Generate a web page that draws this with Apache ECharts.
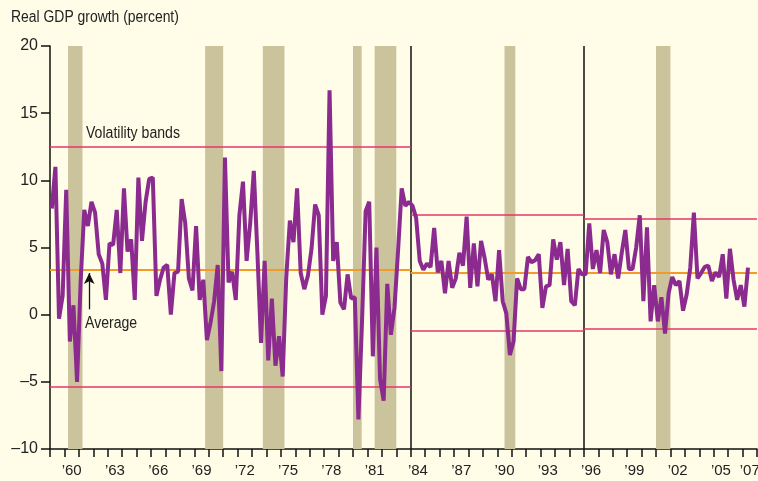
<!DOCTYPE html>
<html>
<head>
<meta charset="UTF-8">
<title>Real GDP growth</title>
<script src="https://cdn.jsdelivr.net/npm/echarts@6/dist/echarts.min.js"></script>
<style type="text/css">
body{margin:0;padding:0;background:#FFFDE8;}
#main{width:758px;height:481px;}
</style>
</head>
<body>
<div id="main"></div>
<script type="text/javascript">
// quarterly real GDP growth, annualized percent
var growth1959to1983 = [
  7.9, 11.0, -0.3, 1.4,   9.3, -2.0, 0.7, -5.0,   2.5, 7.8, 6.6, 8.4,
  7.6, 4.5, 3.8, 1.1,     5.3, 5.2, 7.8, 3.1,     9.4, 4.7, 5.6, 1.1,
  10.2, 5.5, 8.4, 10.1,   10.2, 1.4, 2.6, 3.5,    3.7, 0.0, 3.1, 3.2,
  8.6, 6.8, 2.7, 1.8,     6.6, 1.1, 2.6, -1.9,    -0.6, 1.0, 3.7, -4.2,
  11.7, 2.4, 3.2, 1.1,    7.4, 9.9, 4.0, 6.8,     10.7, 4.6, -2.1, 4.0,
  -3.4, 1.2, -3.8, -1.6,  -4.6, 2.8, 7.0, 5.4,    9.4, 3.1, 1.9, 2.9,
  4.9, 8.2, 7.4, 0.0,     1.4, 16.7, 4.0, 5.4,    0.9, 0.4, 3.0, 1.2,
  1.3, -7.8, -0.5, 7.7,   8.4, -3.1, 5.0, -4.8,   -6.4, 2.3, -1.5, 0.5,
  4.8, 9.4, 8.1, 8.4
];
var growth1984to1995 = [
  8.1, 7.2, 4.0, 3.35,    3.8, 3.55, 6.45, 3.15,  4.0, 1.6, 4.0, 2.0,
  2.7, 4.6, 3.65, 7.3,    2.0, 5.3, 2.1, 5.5,     4.2, 2.6, 3.0, 1.0,
  4.8, 1.0, 0.1, -3.0,    -2.0, 2.7, 1.9, 1.9,    4.3, 3.9, 4.05, 4.5,
  0.5, 2.1, 2.2, 5.6,     4.1, 5.4, 2.2, 4.9,     1.0, 0.7, 3.4, 3.0
];
var growth1996to2007 = [
  3.0, 6.8, 3.4, 4.8,     3.1, 6.3, 5.4, 3.0,     4.5, 2.7, 4.6, 6.3,
  3.4, 3.4, 5.0, 7.4,     1.0, 6.5, -0.5, 2.2,    -0.5, 1.3, -1.4, 1.6,
  2.8, 2.2, 2.5, 0.3,     1.5, 3.5, 7.6, 2.7,     3.1, 3.55, 3.65, 2.5,
  3.15, 2.8, 4.5, 1.2,    4.9, 2.6, 1.1, 2.2,     0.6, 3.5
];
var firstYear = 1959;

// periods with their average and volatility bands
var periodStart = [1959, 1984, 1996];
var periodEnd = [1984, 1996, 2008];
var periodAverage = [3.35, 3.15, 3.15];
var bandUpper = [12.53, 7.45, 7.15];
var bandLower = [-5.34, -1.17, -1.04];

// recessions (shaded)
var recessionStart = [1960.25, 1969.75, 1973.75, 1980.0, 1981.5, 1990.5, 2001.0];
var recessionEnd = [1961.25, 1971.0, 1975.25, 1980.6, 1983.0, 1991.25, 2002.0];

var years = [];
for (var y = 1959; y <= 2007; y++) years.push(String(y));
var labelYears = ['1960','1963','1966','1969','1972','1975','1978','1981','1984',
  '1987','1990','1993','1996','1999','2002','2005','2007'];

var font = "'Liberation Sans Narrow', 'Liberation Sans', Arial, sans-serif";
var allGrowth = growth1959to1983.concat(growth1984to1995, growth1996to2007);
var gdpData = allGrowth.map(function (v, i) {
  return [firstYear + (i + 0.5) / 4, v];
});

var bandLines = [];
var avgLines = [];
for (var p = 0; p < periodStart.length; p++) {
  bandLines.push([{coord: [periodStart[p], bandUpper[p]]}, {coord: [periodEnd[p], bandUpper[p]]}]);
  bandLines.push([{coord: [periodStart[p], bandLower[p]]}, {coord: [periodEnd[p], bandLower[p]]}]);
  avgLines.push([{coord: [periodStart[p], periodAverage[p]]}, {coord: [periodEnd[p], periodAverage[p]]}]);
}
var recessionAreas = recessionStart.map(function (s, i) {
  return [{xAxis: s}, {xAxis: recessionEnd[i]}];
});

var myChart = echarts.init(document.getElementById('main'));
myChart.setOption({
  backgroundColor: '#FFFDE8',
  animation: false,
  grid: {left: 50, right: 1, top: 46, bottom: 32, containLabel: false, outerBoundsMode: 'none'},
  xAxis: [{
    type: 'category',
    data: years,
    boundaryGap: true,
    axisLine: {onZero: false, lineStyle: {color: '#111', width: 1.5}},
    axisTick: {show: true, interval: 0, alignWithLabel: false, inside: false, length: 8,
      lineStyle: {color: '#111', width: 1.5}},
    axisLabel: {
      interval: function (index, value) { return labelYears.indexOf(value) >= 0; },
      formatter: function (v) { return '\u2019' + v.slice(2); },
      color: '#222', fontSize: 15, fontFamily: font, margin: 14
    },
    splitLine: {show: false}
  }, {
    type: 'value',
    min: 1959, max: 2008,
    show: false,
    position: 'bottom'
  }],
  yAxis: {
    type: 'value',
    min: -10, max: 20, interval: 5,
    axisLine: {show: true, onZero: false, lineStyle: {color: '#111', width: 1.5}},
    axisTick: {show: true, length: 9, lineStyle: {color: '#111', width: 1.5}},
    axisLabel: {
      color: '#222', fontSize: 16, fontFamily: font, margin: 12,
      formatter: function (v) { return String(v).replace('-', '\u2013'); }
    },
    splitLine: {show: false}
  },
  series: [{
    name: 'recessions',
    type: 'line',
    xAxisIndex: 1,
    data: [],
    z: 1,
    markArea: {
      silent: true,
      itemStyle: {color: '#CBC39B'},
      data: recessionAreas
    },
    markLine: {
      silent: true,
      symbol: 'none',
      label: {show: false},
      lineStyle: {color: '#111', width: 1.5, type: 'solid'},
      data: [{xAxis: 1984}, {xAxis: 1996}]
    }
  }, {
    name: 'bands',
    type: 'line',
    xAxisIndex: 1,
    data: [],
    z: 2,
    markLine: {
      silent: true,
      symbol: 'none',
      label: {show: false},
      lineStyle: {color: '#E8336B', width: 1.5, type: 'solid'},
      data: bandLines
    }
  }, {
    name: 'average',
    type: 'line',
    xAxisIndex: 1,
    data: [],
    z: 2,
    markLine: {
      silent: true,
      symbol: 'none',
      label: {show: false},
      lineStyle: {color: '#F39A2B', width: 2, type: 'solid'},
      data: avgLines
    }
  }, {
    name: 'Real GDP growth',
    type: 'line',
    xAxisIndex: 1,
    data: gdpData,
    symbol: 'none',
    z: 5,
    lineStyle: {color: '#8B2B8F', width: 4},
    markLine: {
      silent: true,
      label: {show: false},
      lineStyle: {color: '#111', width: 1.3, type: 'solid'},
      data: [[{coord: [1961.72, 0.4], symbol: 'none'}, {coord: [1961.72, 3.1], symbol: 'arrow', symbolSize: [8, 11]}]]
    }
  }],
  graphic: [{
    type: 'text', left: 11, top: 10, scaleX: 0.87,
    style: {text: 'Real GDP growth (percent)', font: '16px ' + font, fill: '#222'}
  }, {
    type: 'text', left: 86, top: 126, scaleX: 0.88,
    style: {text: 'Volatility bands', font: '16px ' + font, fill: '#222'}
  }, {
    type: 'text', left: 85, top: 316, scaleX: 0.88,
    style: {text: 'Average', font: '16px ' + font, fill: '#222'}
  }]
});
</script>
</body>
</html>
